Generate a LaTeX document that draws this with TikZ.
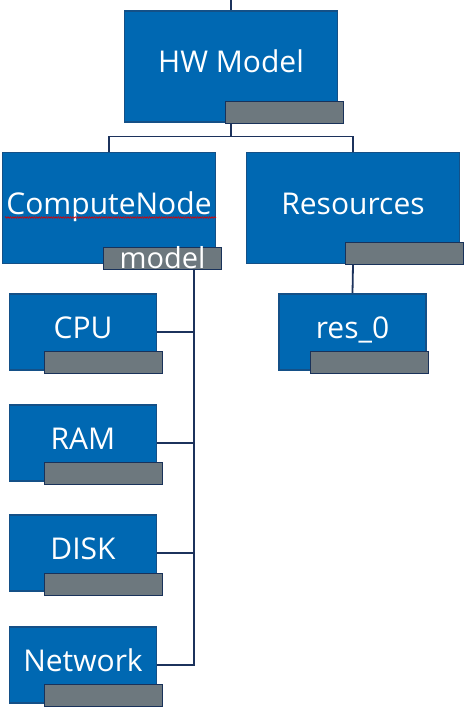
\documentclass[tikz,border=0pt]{standalone}
\usepackage{fontspec}
\setmainfont{Open Sans}
\usetikzlibrary{backgrounds,decorations.pathmorphing}
\definecolor{boxblue}{RGB}{0,104,178}
\definecolor{boxedge}{RGB}{20,80,135}
\definecolor{tagfill}{RGB}{109,120,126}
\definecolor{tagedge}{RGB}{25,50,90}
\definecolor{wirecol}{RGB}{28,50,92}
\begin{document}
\begin{tikzpicture}[x=1pt,y=-1pt,
  bigbox/.style={draw=boxedge, line width=1.2pt, fill=boxblue, minimum width=213pt, minimum height=111pt, inner sep=0pt, text=white, font=\fontsize{30}{30}\selectfont, text height=21pt, text depth=8pt},
  smallbox/.style={bigbox, minimum width=147pt, minimum height=76pt},
  tagbox/.style={draw=tagedge, line width=0.8pt, fill=tagfill, minimum width=118pt, minimum height=22pt, inner sep=0pt, text=white, font=\fontsize{29}{29}\selectfont, text height=20pt, text depth=0pt},
  wire/.style={draw=wirecol, line width=1.8pt},
  spell/.style={draw=red!85!black, line width=0.6pt, decorate, decoration={zigzag, segment length=2.4pt, amplitude=0.8pt}}]
\useasboundingbox (0,0) rectangle (466,708);
% boxes
\node[bigbox] (hw) at (231,66.5) {HW Model};
\node[tagbox] (hwl) at (284,112) {};
\node[bigbox] (cn) at (109,208) {ComputeNode};
\node[tagbox] (cnl) at (162.5,258) {model};
\node[bigbox] (res) at (353,208) {Resources};
\node[tagbox] (resl) at (404,253.5) {};
\node[smallbox] (cpu) at (83,332) {CPU};
\node[tagbox] (cpul) at (103.5,362.5) {};
\node[smallbox] (ram) at (83,443) {RAM};
\node[tagbox] (raml) at (103.5,473.5) {};
\node[smallbox] (disk) at (83,553) {DISK};
\node[tagbox] (diskl) at (103.5,584) {};
\node[smallbox] (net) at (83,665) {Network};
\node[tagbox] (netl) at (103.5,695.5) {};
\node[smallbox] (r0) at (352.5,332) {res\_0};
\node[tagbox] (r0l) at (369.5,362.5) {};
% spell-check underline
\draw[spell] (5,217.5) -- (216,217.5);
% connectors
\coordinate (top) at (231,0);
\coordinate (spine) at (194,262);
\begin{scope}[on background layer]
\draw[wire] (top) -- (hw.north);
\draw[wire] (hw.south) -- ++(0,14) -| (cn.north);
\draw[wire] (hw.south) -- ++(0,14) -| (res.north);
\draw[wire] (res.south) -- (r0.north);
\draw[wire] (spine) -- (spine |- net.east) -- (net.east);
\draw[wire] (cpu.east) -- (cpu.east -| spine);
\draw[wire] (ram.east) -- (ram.east -| spine);
\draw[wire] (disk.east) -- (disk.east -| spine);
\end{scope}
\end{tikzpicture}
\end{document}
